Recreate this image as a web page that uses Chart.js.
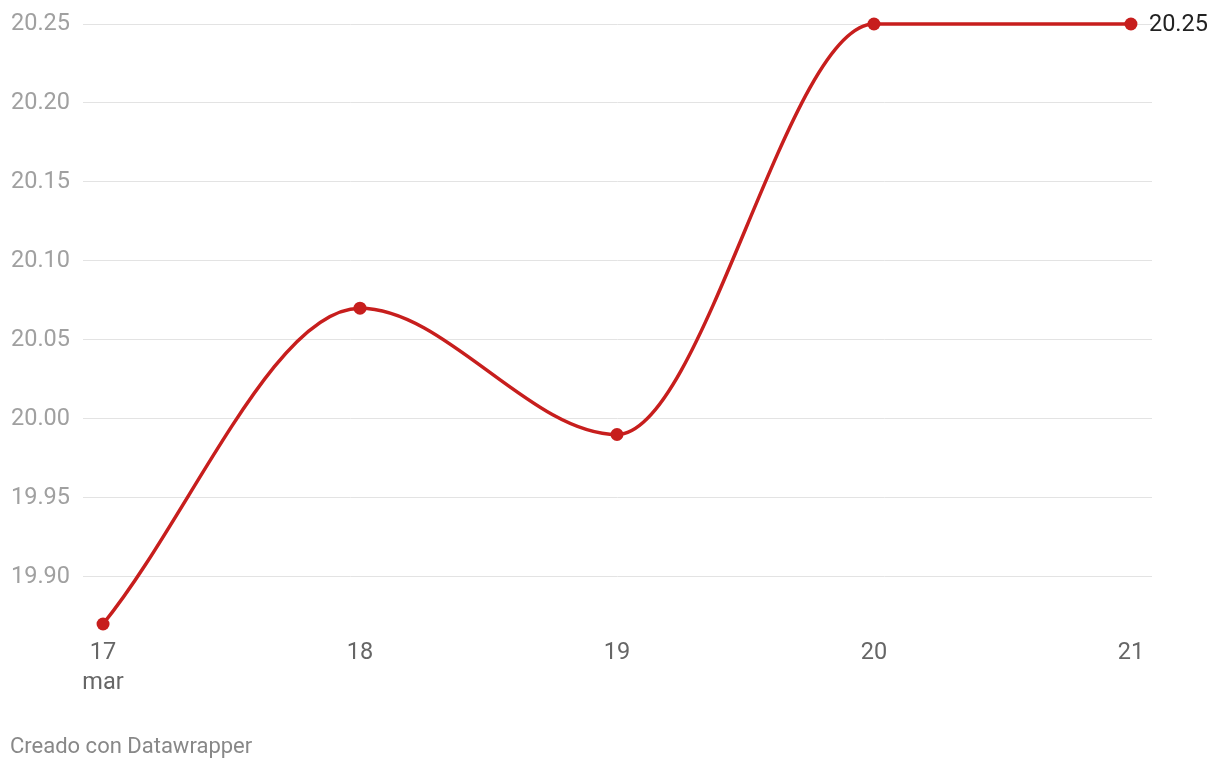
<!DOCTYPE html>
<html>
<head>
<meta charset="utf-8">
<script src="https://cdn.jsdelivr.net/npm/chart.js@4/dist/chart.umd.min.js"></script>
<style>
  html, body { margin: 0; padding: 0; background: #fff; }
  #wrap { position: relative; width: 1220px; height: 770px; }
  #footer { position: absolute; left: 10px; top: 733px; font-family: Roboto, sans-serif; font-size: 22px; line-height: 26px; color: #888; }
</style>
</head>
<body>
<div id="wrap">
  <canvas id="c" width="1220" height="770"></canvas>
  <div id="footer">Creado con Datawrapper</div>
</div>
<script>
const dayLabels = ["17", "18", "19", "20", "21"];
const monthLabel = "mar";
const values = [19.87, 20.07, 19.99, 20.25, 20.25];
const yTicks = [19.90, 19.95, 20.00, 20.05, 20.10, 20.15, 20.20, 20.25];

const points = values.map((v, i) => ({ x: i, y: v }));
const red = "#c71e1d";

const endLabel = {
  id: "endLabel",
  afterDatasetsDraw(chart) {
    const meta = chart.getDatasetMeta(0);
    const last = meta.data[meta.data.length - 1];
    const ctx = chart.ctx;
    ctx.save();
    ctx.font = "23.5px Roboto, sans-serif";
    ctx.fillStyle = "#222";
    ctx.textAlign = "left";
    ctx.textBaseline = "middle";
    ctx.fillText(values[values.length - 1].toFixed(2), last.x + 18, last.y + 1);
    ctx.restore();
  }
};

new Chart(document.getElementById("c"), {
  type: "line",
  data: {
    datasets: [{
      data: points,
      borderColor: red,
      backgroundColor: red,
      borderWidth: 3.5,
      pointRadius: 6.5,
      pointHoverRadius: 6.5,
      pointBackgroundColor: red,
      pointBorderWidth: 0,
      cubicInterpolationMode: "monotone",
      fill: false,
      clip: false
    }]
  },
  options: {
    responsive: false,
    animation: false,
    layout: { padding: { top: 24, right: 68, bottom: 66, left: 0 } },
    plugins: { legend: { display: false }, tooltip: { enabled: false } },
    scales: {
      x: {
        type: "linear",
        min: -0.078,
        max: 4.082,
        afterBuildTicks(axis) { axis.ticks = dayLabels.map((_, i) => ({ value: i })); },
        afterFit(axis) { axis.height = 80; },
        grid: { display: false },
        border: { display: false },
        ticks: {
          padding: 6,
          color: "#666",
          font: { family: "Roboto, sans-serif", size: 23.5, lineHeight: 1.28 },
          callback(v) {
            const i = Math.round(v);
            return i === 0 ? [dayLabels[i], monthLabel] : dayLabels[i];
          }
        }
      },
      y: {
        min: 19.87,
        max: 20.25,
        afterBuildTicks(axis) { axis.ticks = yTicks.map(v => ({ value: v })); },
        afterFit(axis) { axis.width = 83; axis.paddingTop = 0; },
        grid: { color: "#e3e3e3", lineWidth: 1, drawTicks: false },
        border: { display: false },
        ticks: {
          padding: 13,
          color: "#a0a0a0",
          font: { family: "Roboto, sans-serif", size: 23.5 },
          callback(v) { return Number(v).toFixed(2); }
        }
      }
    }
  },
  plugins: [endLabel]
});
</script>
</body>
</html>
